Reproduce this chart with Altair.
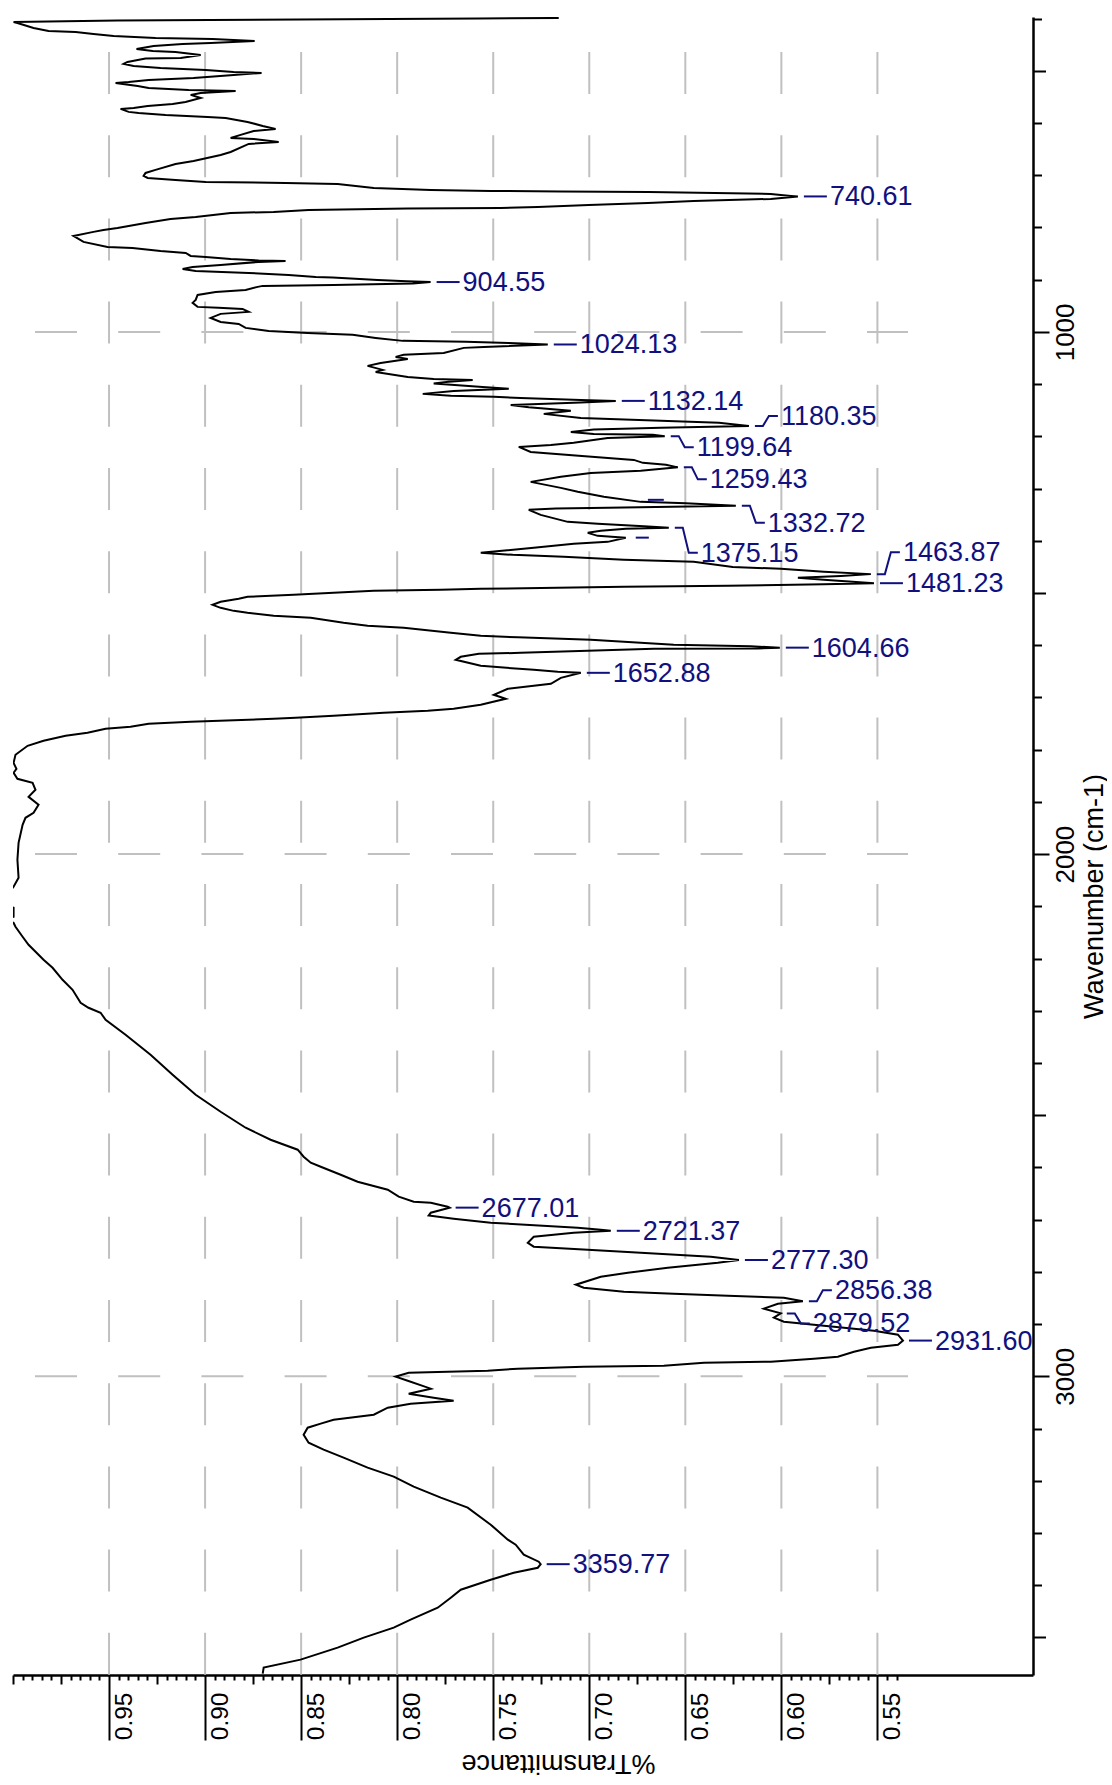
import altair as alt
import pandas as pd

FONT = "Liberation Sans"
NAVY = "#10107e"
GRID = "#c0c0c0"

# ---------------------------------------------------------------------------
# IR spectrum: wavenumber (cm-1) and transmittance
# ---------------------------------------------------------------------------
wavenumber = [
    398.8, 400.1, 403.9, 406.5, 408.4, 417.9, 423.7, 425.6, 429.5, 433.3,
    437.1, 439.0, 442.9, 446.7, 448.6, 452.4, 458.2, 462.0, 463.9, 469.6,
    475.4, 476.4, 483.1, 486.9, 490.7, 494.5, 498.4, 502.3, 504.1, 508.0,
    513.7, 517.5, 521.4, 523.3, 529.0, 532.8, 536.7, 538.6, 542.4, 546.2,
    552.0, 559.6, 563.5, 567.3, 571.1, 573.0, 578.7, 580.7, 584.5, 588.4,
    590.3, 597.9, 605.6, 611.3, 615.2, 622.8, 628.6, 630.5, 636.3, 640.1,
    655.4, 661.1, 672.6, 678.4, 689.8, 695.6, 701.3, 705.2, 709.0, 712.8,
    714.7, 716.6, 724.3, 728.1, 730.0, 731.0, 731.9, 735.8, 739.6, 740.61,
    745.4, 749.2, 753.0, 756.8, 760.7, 762.6, 763.5, 766.5, 770.3, 772.2,
    779.8, 783.7, 791.3, 800.9, 804.7, 808.5, 816.2, 827.7, 837.3, 839.2,
    844.9, 848.8, 854.5, 856.4, 860.2, 863.1, 864.1, 866.0, 871.7, 875.6,
    879.4, 883.2, 887.0, 890.9, 894.7, 895.7, 900.4, 903.0, 904.55, 907.1,
    910.0, 911.9, 913.8, 919.6, 923.4, 929.2, 938.7, 944.5, 952.1, 954.0,
    956.0, 961.7, 965.5, 973.2, 980.9, 984.7, 992.3, 998.1, 1001.9, 1005.7,
    1011.5, 1017.2, 1019.1, 1021.1, 1024.13, 1028.7, 1030.6, 1040.2, 1044.0, 1047.9,
    1051.7, 1059.4, 1065.1, 1072.8, 1076.6, 1086.2, 1090.0, 1091.9, 1095.7, 1098.6,
    1105.3, 1109.1, 1113.0, 1118.7, 1122.5, 1124.4, 1126.4, 1130.2, 1132.14, 1135.0,
    1139.8, 1144.5, 1151.2, 1157.0, 1164.7, 1170.4, 1174.2, 1180.35, 1183.8, 1186.7,
    1191.5, 1195.3, 1197.2, 1199.64, 1203.0, 1212.5, 1216.4, 1220.2, 1229.8, 1237.4,
    1245.1, 1250.8, 1254.6, 1259.43, 1266.1, 1270.0, 1277.6, 1287.2, 1298.7, 1306.3,
    1315.9, 1325.5, 1328.3, 1332.72, 1334.5, 1337.0, 1338.0, 1340.8, 1350.4, 1363.8,
    1367.6, 1372.4, 1375.15, 1377.2, 1381.0, 1384.8, 1390.6, 1394.4, 1402.1, 1405.9,
    1413.5, 1423.1, 1427.0, 1430.8, 1436.5, 1440.4, 1450.0, 1453.8, 1459.5, 1463.87,
    1467.4, 1471.0, 1474.8, 1481.23, 1483.4, 1486.3, 1488.2, 1492.1, 1494.0, 1495.9,
    1499.7, 1503.5, 1507.4, 1511.2, 1516.9, 1522.7, 1528.4, 1534.2, 1538.0, 1543.7,
    1547.6, 1557.1, 1562.9, 1566.7, 1576.3, 1582.0, 1584.9, 1589.7, 1599.3, 1602.1,
    1604.66, 1606.1, 1606.9, 1610.8, 1614.6, 1616.5, 1622.2, 1628.0, 1639.5, 1647.1,
    1651.0, 1652.88, 1662.5, 1674.0, 1683.5, 1695.0, 1702.7, 1714.1, 1721.8, 1725.6,
    1729.5, 1735.2, 1739.0, 1741.0, 1746.7, 1750.5, 1756.3, 1760.1, 1767.8, 1773.5,
    1783.1, 1792.6, 1809.9, 1825.2, 1836.7, 1844.3, 1855.8, 1863.5, 1876.9, 1890.3,
    1905.6, 1920.9, 1930.5, 1943.9, 1978.4, 2010.9, 2045.4, 2062.6, 2081.7, 2097.1,
    2102.8, 2120.0, 2125.8, 2131.5, 2139.2, 2158.3, 2173.6, 2183.2, 2202.4, 2217.7,
    2240.7, 2259.8, 2284.7, 2294.3, 2303.8, 2317.2, 2346.0, 2384.3, 2422.5, 2460.8,
    2493.4, 2524.0, 2547.0, 2566.1, 2579.5, 2591.0, 2598.7, 2614.0, 2627.4, 2642.7,
    2656.1, 2665.7, 2667.6, 2675.2, 2677.01, 2686.8, 2692.2, 2698.2, 2705.9, 2715.5,
    2719.3, 2721.37, 2725.0, 2732.7, 2744.2, 2751.8, 2757.6, 2763.3, 2771.0, 2777.30,
    2782.5, 2792.1, 2801.6, 2809.3, 2824.6, 2830.4, 2838.0, 2841.8, 2845.7, 2849.5,
    2856.38, 2861.0, 2870.5, 2879.52, 2887.7, 2895.4, 2905.0, 2912.7, 2920.3, 2931.60,
    2939.5, 2945.2, 2952.9, 2962.5, 2966.3, 2972.0, 2973.9, 2979.7, 2981.6, 2985.4,
    2989.3, 2991.2, 2993.1, 3000.7, 3008.4, 3023.7, 3033.3, 3040.9, 3046.7, 3052.4,
    3060.1, 3073.5, 3083.1, 3090.7, 3098.4, 3111.8, 3127.1, 3140.5, 3155.8, 3175.0,
    3192.2, 3211.4, 3232.4, 3251.6, 3284.1, 3312.8, 3322.4, 3341.6, 3355.0, 3359.77,
    3366.6, 3376.1, 3389.5, 3408.7, 3424.0, 3443.2, 3466.0, 3481.3, 3500.5, 3519.6,
    3542.6, 3557.9, 3569.4,
]

transmittance = [
    0.7159, 0.7575, 0.9456, 0.9997, 0.9977, 0.9893, 0.9815, 0.9674, 0.9581, 0.9476,
    0.9258, 0.8961, 0.8742, 0.8971, 0.9117, 0.9268, 0.9357, 0.9273, 0.9154, 0.9023,
    0.9127, 0.9310, 0.9404, 0.9424, 0.9372, 0.9232, 0.8997, 0.8851, 0.8706, 0.8851,
    0.9060, 0.9294, 0.9398, 0.9466, 0.9351, 0.9294, 0.9086, 0.8841, 0.9023, 0.9075,
    0.9023, 0.9102, 0.9169, 0.9299, 0.9372, 0.9440, 0.9398, 0.9346, 0.9206, 0.8987,
    0.8893, 0.8779, 0.8700, 0.8633, 0.8747, 0.8815, 0.8867, 0.8747, 0.8617, 0.8773,
    0.8867, 0.8919, 0.9060, 0.9154, 0.9258, 0.9310, 0.9320, 0.9299, 0.9154, 0.8997,
    0.8581, 0.8310, 0.8122, 0.7825, 0.7513, 0.7148, 0.6690, 0.6055, 0.5950, 0.5914,
    0.6055, 0.6456, 0.6695, 0.7002, 0.7268, 0.7461, 0.7945, 0.8461, 0.8643, 0.8867,
    0.9049, 0.9180, 0.9310, 0.9456, 0.9529, 0.9581, 0.9685, 0.9633, 0.9508, 0.9378,
    0.9232, 0.9101, 0.9075, 0.8997, 0.8867, 0.8721, 0.8581, 0.8721, 0.8919, 0.9065,
    0.9117, 0.9049, 0.8773, 0.8565, 0.8424, 0.8336, 0.8101, 0.7950, 0.7826, 0.7919,
    0.8331, 0.8700, 0.8726, 0.8789, 0.8945, 0.9039, 0.9049, 0.9065, 0.9039, 0.8930,
    0.8805, 0.8773, 0.8919, 0.8971, 0.8919, 0.8825, 0.8789, 0.8669, 0.8466, 0.8232,
    0.8112, 0.7971, 0.7643, 0.7419, 0.7216, 0.7549, 0.7653, 0.7758, 0.7966, 0.8008,
    0.7945, 0.8086, 0.8154, 0.8075, 0.8112, 0.7945, 0.7810, 0.7607, 0.7732, 0.7810,
    0.7555, 0.7419, 0.7706, 0.7867, 0.7721, 0.7497, 0.7357, 0.7044, 0.6862, 0.7044,
    0.7409, 0.7315, 0.7096, 0.7237, 0.7044, 0.6627, 0.6325, 0.6169, 0.6627, 0.6977,
    0.7096, 0.6977, 0.6669, 0.6607, 0.6904, 0.7081, 0.7200, 0.7367, 0.7305, 0.7055,
    0.6768, 0.6721, 0.6601, 0.6539, 0.6732, 0.6992, 0.7148, 0.7305, 0.7148, 0.7060,
    0.6924, 0.6732, 0.6497, 0.6237, 0.6487, 0.6904, 0.7174, 0.7315, 0.7253, 0.7112,
    0.6956, 0.6716, 0.6586, 0.6810, 0.6940, 0.7008, 0.6956, 0.6810, 0.6904, 0.7081,
    0.7289, 0.7565, 0.7398, 0.7133, 0.6820, 0.6456, 0.6253, 0.6003, 0.5779, 0.5534,
    0.5690, 0.5914, 0.5779, 0.5518, 0.5779, 0.6279, 0.6820, 0.7565, 0.7773, 0.8122,
    0.8331, 0.8539, 0.8779, 0.8825, 0.8919, 0.8961, 0.8919, 0.8851, 0.8779, 0.8643,
    0.8450, 0.8279, 0.8154, 0.7966, 0.7721, 0.7565, 0.7372, 0.6992, 0.6560, 0.6159,
    0.6008, 0.6122, 0.6664, 0.7008, 0.7357, 0.7575, 0.7669, 0.7695, 0.7565, 0.7289,
    0.7164, 0.7044, 0.7148, 0.7200, 0.7424, 0.7497, 0.7435, 0.7565, 0.7706, 0.7841,
    0.8070, 0.8331, 0.8529, 0.8643, 0.9075, 0.9294, 0.9388, 0.9518, 0.9612, 0.9726,
    0.9841, 0.9924, 0.9987, 0.9997, 0.9982, 0.9997, 0.9977, 0.9898, 0.9883, 0.9919,
    0.9867, 0.9893, 0.9935, 0.9950, 0.9971, 0.9977, 0.9971, 0.9997, 1.0040, 1.0040,
    0.9997, 0.9997, 1.0040, 0.9997, 0.9987, 0.9950, 0.9919, 0.9893, 0.9841, 0.9794,
    0.9742, 0.9690, 0.9648, 0.9607, 0.9544, 0.9518, 0.9414, 0.9284, 0.9169, 0.9049,
    0.8919, 0.8789, 0.8659, 0.8518, 0.8487, 0.8450, 0.8398, 0.8294, 0.8206, 0.8049,
    0.7992, 0.7914, 0.7825, 0.7737, 0.7727, 0.7825, 0.7836, 0.7706, 0.7513, 0.7060,
    0.6940, 0.6888, 0.7081, 0.7289, 0.7320, 0.7289, 0.7008, 0.6732, 0.6367, 0.6221,
    0.6331, 0.6591, 0.6799, 0.6940, 0.7070, 0.7029, 0.6820, 0.6560, 0.6279, 0.5987,
    0.5888, 0.6018, 0.6091, 0.6003, 0.6039, 0.5987, 0.5726, 0.5518, 0.5393, 0.5367,
    0.5393, 0.5534, 0.5622, 0.5706, 0.5831, 0.6055, 0.6403, 0.6612, 0.7029, 0.7372,
    0.7529, 0.7737, 0.7940, 0.8008, 0.7945, 0.7825, 0.7940, 0.7810, 0.7706, 0.7930,
    0.8049, 0.8122, 0.8331, 0.8398, 0.8466, 0.8487, 0.8461, 0.8383, 0.8279, 0.8154,
    0.8018, 0.7914, 0.7773, 0.7633, 0.7513, 0.7424, 0.7383, 0.7341, 0.7263, 0.7253,
    0.7268, 0.7393, 0.7513, 0.7669, 0.7721, 0.7789, 0.7930, 0.8018, 0.8174, 0.8310,
    0.8503, 0.8695, 0.8700,
]

# labelled absorption peaks (cm-1)
peak_wavenumber = [
    740.61, 904.55, 1024.13, 1132.14, 1180.35, 1199.64, 1259.43, 1332.72,
    1375.15, 1463.87, 1481.23, 1604.66, 1652.88, 2677.01, 2721.37, 2777.30,
    2856.38, 2879.52, 2931.60, 3359.77,
]
# crowded labels are pushed up (-) or down (+) by this many pixels
label_nudge = [0, 0, 0, 0, -10, 11, 12, 17, 25, -22, 0, 0, 0, 0, 0, 0, -11, 10, 0, 0]

# two orphan leader stubs left on the plot (wavenumber, transmittance from, to)
stub_wavenumber = [1321.6, 1394.0]
stub_t_from = [0.6695, 0.6758]
stub_t_to = [0.6612, 0.6690]

# grid positions
t_grid = [0.95, 0.90, 0.85, 0.80, 0.75, 0.70, 0.65, 0.60, 0.55]
w_grid = [1000, 2000, 3000]

# axis tick positions
t_ticks = [round(0.54 + 0.005 * i, 3) for i in range(93)]
w_ticks = list(range(400, 3600, 100))

# ---------------------------------------------------------------------------
# geometry
# ---------------------------------------------------------------------------
PLOT_W, PLOT_H = 1020, 1658
T_DOM = [0.469, 1.0]
W_DOM = [397, 3572]
PX_T = PLOT_W / (T_DOM[1] - T_DOM[0])   # pixels per transmittance unit
PX_W = PLOT_H / (W_DOM[1] - W_DOM[0])   # pixels per cm-1

assert len(wavenumber) == len(transmittance)
spectrum = pd.DataFrame({"w": wavenumber, "t": transmittance})
lookup = dict(zip(wavenumber, transmittance))
peak_t = [lookup[w] for w in peak_wavenumber]

leader_rows, label_rows = [], []
for i, (w, t, nudge) in enumerate(zip(peak_wavenumber, peak_t, label_nudge)):
    w_lab = w + nudge / PX_W
    for k, (off, ww) in enumerate([(6, w), (14, w), (20, w_lab), (29, w_lab)]):
        leader_rows.append({"peak": i, "k": k, "t": t - off / PX_T, "w": ww})
    label_rows.append({"t": t - 32 / PX_T, "w": w_lab, "label": f"{w:.2f}"})
leaders = pd.DataFrame(leader_rows)
labels = pd.DataFrame(label_rows)

stubs = pd.DataFrame({"w": stub_wavenumber, "t": stub_t_from, "t2": stub_t_to})

vgrid = pd.DataFrame({"t": t_grid, "w": [W_DOM[0] + 35 / PX_W] * len(t_grid),
                      "w2": [W_DOM[1]] * len(t_grid)})
hgrid = pd.DataFrame({"w": w_grid, "t": [T_DOM[1] - 22 / PX_T] * len(w_grid),
                      "t2": [T_DOM[1] - 895 / PX_T] * len(w_grid)})

# ---------------------------------------------------------------------------
# scales and axes
# ---------------------------------------------------------------------------
x_scale = alt.Scale(domain=T_DOM, reverse=True, nice=False, zero=False)
y_scale = alt.Scale(domain=W_DOM, reverse=True, nice=False, zero=False)

t_major = "round(datum.value * 1000) % 50 === 0 && datum.value < 0.975"
t_medium = "round(datum.value * 1000) % 25 === 0"

x_axis = alt.Axis(
    orient="bottom", values=t_ticks, grid=False,
    domainColor="black", domainWidth=2.5,
    tickColor="black", tickWidth=2, tickSize=65,
    tickDash={"condition": [{"test": t_major, "value": [65, 0]},
                            {"test": t_medium, "value": [9, 100]}],
              "value": [5, 100]},
    labelExpr=f"({t_major}) ? format(datum.value, '.2f') : ''",
    labelAngle=270, labelAlign="right", labelBaseline="top",
    labelPadding=-48, labelOffset=3,
    labelFont=FONT, labelFontSize=24.5, labelColor="black",
    labelOverlap=False, labelFlush=False,
    title="%Transmittance", titleFont=FONT, titleFontSize=27,
    titleFontWeight="normal", titleColor="black",
    titleAngle=180, titleAlign="center", titleBaseline="alphabetic",
    titleX=545, titleY=79,
)

y_axis = alt.Axis(
    orient="right", values=w_ticks, grid=False,
    domainColor="black", domainWidth=2.5,
    tickColor="black", tickWidth=2, tickSize=16,
    tickDash={"condition": [{"test": "datum.value % 1000 === 0", "value": [16, 0]},
                            {"test": "datum.value % 500 === 0", "value": [12.5, 100]}],
              "value": [8.5, 100]},
    labelExpr="datum.value % 1000 === 0 ? format(datum.value, 'd') : ''",
    labelAngle=270, labelAlign="center", labelBaseline="top", labelPadding=3,
    labelFont=FONT, labelFontSize=26, labelColor="black",
    labelOverlap=False, labelFlush=False,
    title="Wavenumber (cm-1)", titleFont=FONT, titleFontSize=27,
    titleFontWeight="normal", titleColor="black",
    titleAngle=270, titleAlign="center", titleBaseline="top",
    titleX=48, titleY=879,
)


def X(field="t"):
    return alt.X(f"{field}:Q", scale=x_scale, axis=x_axis)


def Y(field="w"):
    return alt.Y(f"{field}:Q", scale=y_scale, axis=y_axis)


# ---------------------------------------------------------------------------
# layers
# ---------------------------------------------------------------------------
vgrid_layer = alt.Chart(vgrid).mark_rule(
    color=GRID, strokeWidth=2, strokeDash=[42, 41.2]
).encode(x=X(), y=Y(), y2="w2:Q")

hgrid_layer = alt.Chart(hgrid).mark_rule(
    color=GRID, strokeWidth=2, strokeDash=[42, 41.2]
).encode(y=Y(), x=X(), x2="t2:Q")

spectrum_layer = alt.Chart(spectrum).mark_line(
    color="black", strokeWidth=2, clip=True
).encode(x=X(), y=Y(), order="w:Q")

leader_layer = alt.Chart(leaders).mark_line(
    color=NAVY, strokeWidth=2
).encode(x=X(), y=Y(), detail="peak:N", order="k:Q")

stub_layer = alt.Chart(stubs).mark_rule(
    color=NAVY, strokeWidth=2
).encode(y=Y(), x=X(), x2="t2:Q")

label_layer = alt.Chart(labels).mark_text(
    align="left", baseline="middle", dy=1,
    font=FONT, fontSize=27, color=NAVY
).encode(x=X(), y=Y(), text="label:N")

chart = alt.layer(
    vgrid_layer, hgrid_layer, spectrum_layer, leader_layer, stub_layer, label_layer
).properties(
    width=PLOT_W, height=PLOT_H,
    padding={"left": 12, "top": 17, "right": 0, "bottom": 6},
    background="white",
).configure_view(strokeWidth=0)

chart.save("out.html", embed_options={"renderer": "svg", "actions": False})
